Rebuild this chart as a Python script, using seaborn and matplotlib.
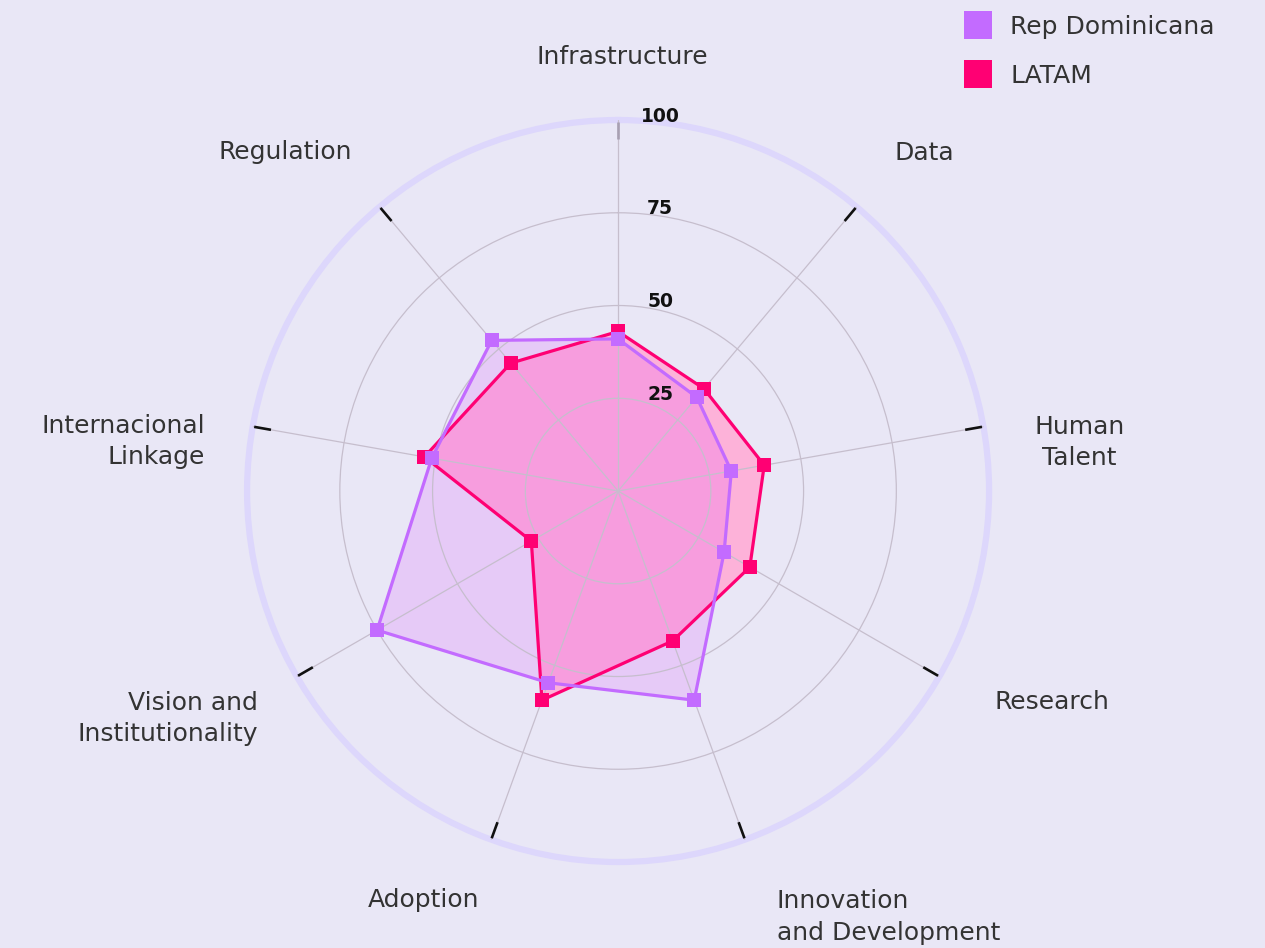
import numpy as np
import matplotlib.pyplot as plt
import seaborn as sns
from matplotlib.lines import Line2D

categories = ["Infrastructure", "Data", "Human\nTalent", "Research",
              "Innovation\nand Development", "Adoption",
              "Vision and\nInstitutionality", "Internacional\nLinkage", "Regulation"]
rep_dom = [41, 33, 31, 33, 60, 55, 75, 51, 53]
latam = [43, 36, 40, 41, 43, 60, 27, 53, 45]
ticks = [25, 50, 75, 100]

sns.set_theme(style="white")
plt.rcParams["font.family"] = ["DejaVu Sans"]

bg = "#E9E7F6"
purple = "#C36BFF"
pink = "#FF0073"

fig = plt.figure(figsize=(12.65, 9.48), dpi=100, facecolor=bg)
ax = fig.add_axes([0.1953, 0.0907, 0.5866, 0.7827], polar=True)
ax.set_facecolor(bg)
ax.set_theta_zero_location("N")
ax.set_theta_direction(-1)

n = len(categories)
theta = np.deg2rad(np.arange(n) * 360 / n)
th_closed = np.append(theta, theta[0])

ax.set_ylim(0, 100)
ax.set_yticks(ticks[:-1])
ax.set_yticklabels([])
ax.set_xticks(theta)
ax.set_xticklabels([])
ax.tick_params(length=0)
ax.grid(True, color="#C6BECD", lw=0.9)
ax.set_axisbelow(False)
ax.spines["polar"].set_color("#DDD7FC")
ax.spines["polar"].set_linewidth(4.5)

# spokes' outer ticks
for i, t in enumerate(theta):
    ax.plot([t, t], [95, 99.6], color="#111111" if i else "#A8A0B2",
            lw=1.9, zorder=4, solid_capstyle="butt")

lat = np.append(latam, latam[0])
rd = np.append(rep_dom, rep_dom[0])
ax.fill(th_closed, lat, color="#FDB2D9", zorder=1)
ax.fill(th_closed, rd, color="#D526FF", alpha=0.15, zorder=1.1, lw=0)
ax.plot(th_closed, lat, color=pink, lw=2.3, marker="s", ms=10, mew=0, zorder=5)
ax.plot(th_closed, rd, color=purple, lw=2.3, marker="s", ms=10, mew=0, zorder=5)

# radial tick labels
for r in ticks:
    ax.annotate(str(r), xy=(0, r), xytext=(42, 4), textcoords="offset pixels",
                ha="center", va="center", fontsize=13.5, fontweight="semibold",
                color="#111111", annotation_clip=False)

# category labels
lab_pos = [(0.5, 117, "center"), (42.2, 123, "center"), (84, 125, "center"),
           (116, 130, "center"), (147.6, 136, "left"), (205.5, 122, "center"),
           (243.2, 136, "right"), (275.7, 134, "right"), (315.5, 128, "center")]
for lab, (a, r, ma) in zip(categories, lab_pos):
    ax.text(np.deg2rad(a), r, lab, ha="center", va="center", multialignment=ma,
            fontsize=18, color="#333333", linespacing=1.4)

handles = [Line2D([], [], marker="s", ls="none", ms=20, mew=0, color=purple),
           Line2D([], [], marker="s", ls="none", ms=20, mew=0, color=pink)]
fig.legend(handles, ["Rep Dominicana", "LATAM"], loc="upper left",
           bbox_to_anchor=(0.7355, 1.008), frameon=False, fontsize=18,
           labelcolor="#333333", handletextpad=0.3, labelspacing=1.0)

fig.savefig("out.png", dpi=100, facecolor=bg)
